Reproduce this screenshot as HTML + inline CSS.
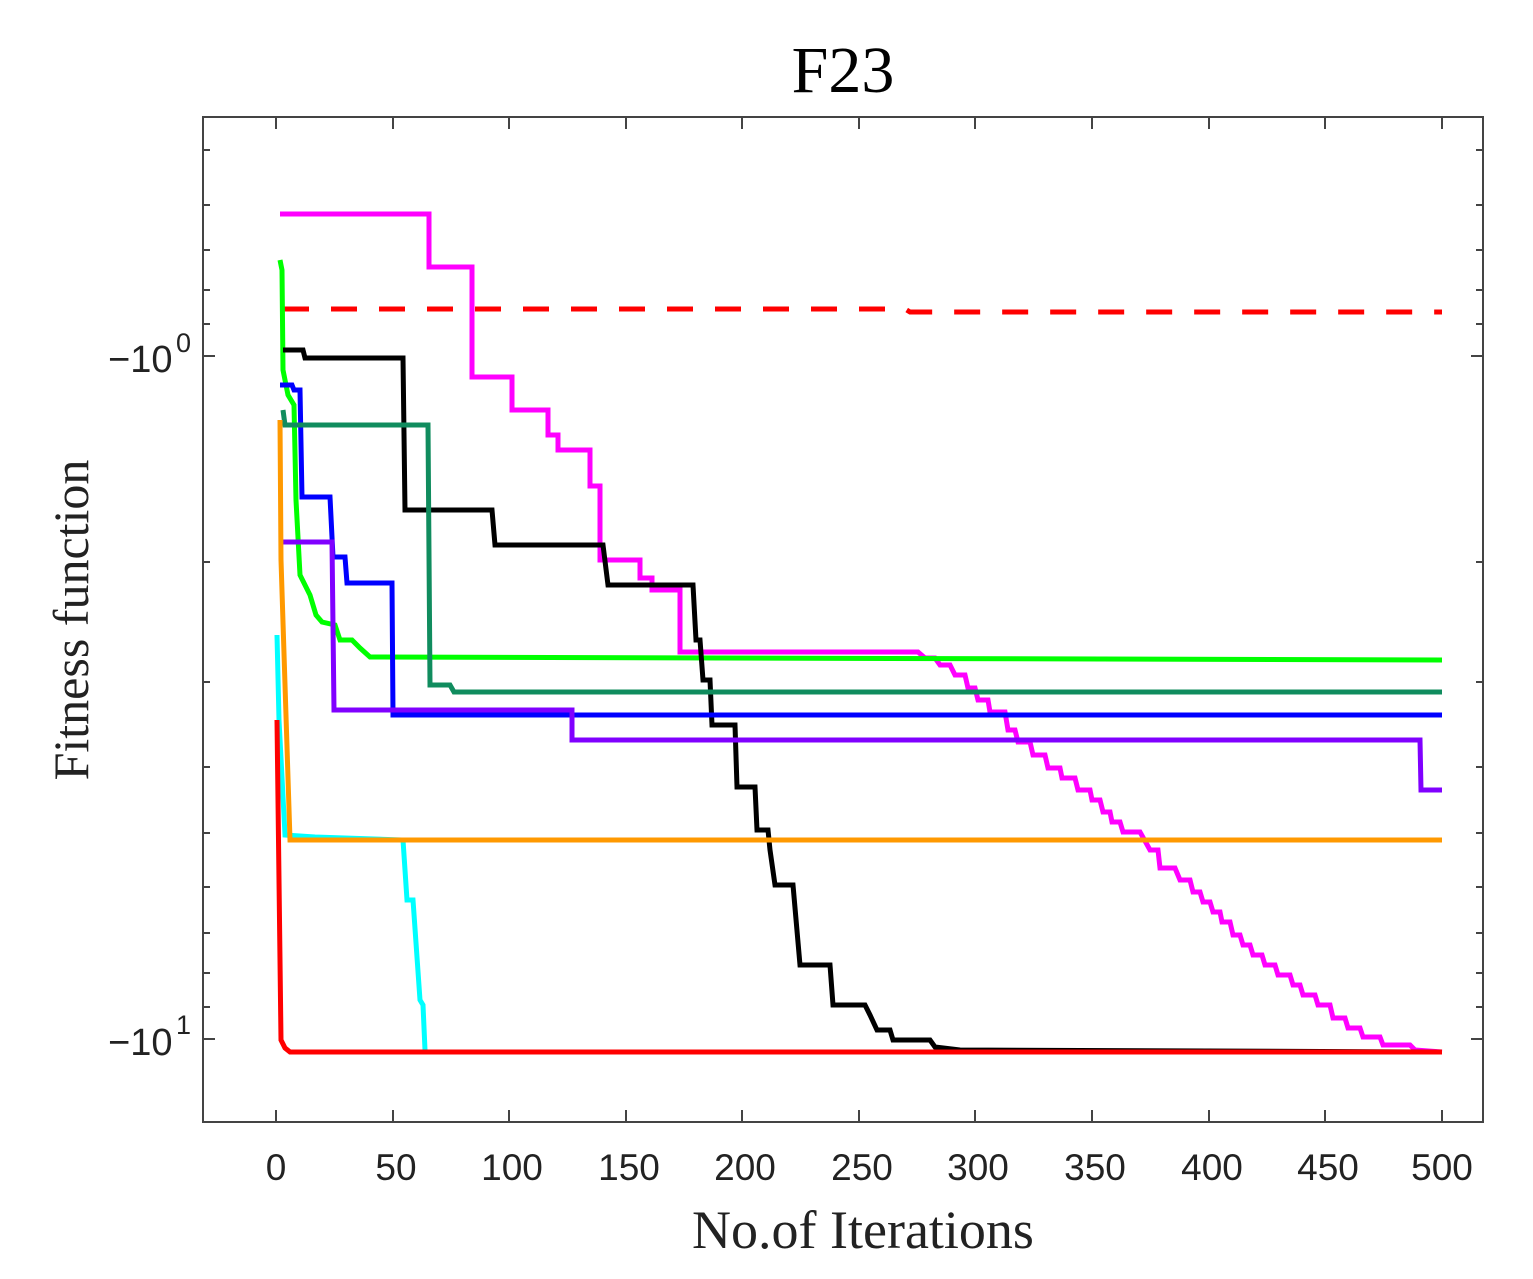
<!DOCTYPE html>
<html><head><meta charset="utf-8"><style>html,body{margin:0;padding:0;background:#fff}svg{display:block}</style></head>
<body>
<svg width="1533" height="1279" viewBox="0 0 1533 1279" xmlns="http://www.w3.org/2000/svg">
<rect width="1533" height="1279" fill="#fff"/>
<text x="843" y="92" font-family="Liberation Serif, serif" font-size="66" text-anchor="middle">F23</text>
<rect x="203" y="117" width="1280" height="1005" fill="none" stroke="#444" stroke-width="2"/>
<g stroke="#444" stroke-width="2">
<path d="M276 1122v-12M393 1122v-12M509 1122v-12M626 1122v-12M742 1122v-12M859 1122v-12M975 1122v-12M1092 1122v-12M1209 1122v-12M1325 1122v-12M1442 1122v-12"/>
<path d="M276 117v12M393 117v12M509 117v12M626 117v12M742 117v12M859 117v12M975 117v12M1092 117v12M1209 117v12M1325 117v12M1442 117v12"/>
<path d="M203 356h12M203 1039h12M1483 356h-12M1483 1039h-12"/>
<path d="M203 150h7M203 205h7M203 250h7M203 290h7M203 324h7M203 562h7M203 682h7M203 767h7M203 833h7M203 887h7M203 933h7M203 973h7M203 1007h7"/>
<path d="M1483 150h-7M1483 205h-7M1483 250h-7M1483 290h-7M1483 324h-7M1483 562h-7M1483 682h-7M1483 767h-7M1483 833h-7M1483 887h-7M1483 933h-7M1483 973h-7M1483 1007h-7"/>
</g>
<g font-family="Liberation Sans, sans-serif" font-size="37" fill="#222" text-anchor="middle">
<text x="276" y="1180">0</text><text x="396" y="1180">50</text><text x="512" y="1180">100</text><text x="629" y="1180">150</text><text x="745" y="1180">200</text><text x="862" y="1180">250</text><text x="978" y="1180">300</text><text x="1095" y="1180">350</text><text x="1212" y="1180">400</text><text x="1328" y="1180">450</text><text x="1442" y="1180">500</text>
</g>
<g font-family="Liberation Sans, sans-serif" font-size="38" fill="#222">
<text x="108" y="372">−10</text><text x="176" y="352" font-size="27">0</text>
<text x="108" y="1055">−10</text><text x="176" y="1034" font-size="27">1</text>
</g>
<text x="863" y="1248" font-family="Liberation Serif, serif" font-size="54" text-anchor="middle" fill="#222">No.of Iterations</text>
<text transform="translate(88,620) rotate(-90)" font-family="Liberation Serif, serif" font-size="50" text-anchor="middle" fill="#222">Fitness function</text>
<g fill="none" stroke-width="5" stroke-linejoin="miter">
<polyline stroke="#ff00ff" points="280,214 429,214 429,267 472,267 472,377 512,377 512,410 548,410 548,435 558,435 558,450 590,450 590,486 600,486 600,560 640,560 640,578 652,578 652,590 680,590 680,652 918,652 925,658 935,658 940,665 950,665 955,675 965,675 968,688 975,688 978,700 988,700 990,712 1005,712 1008,730 1015,730 1018,742 1030,742 1033,755 1045,755 1048,768 1060,768 1062,778 1075,778 1078,790 1090,790 1092,800 1100,800 1103,812 1110,812 1112,822 1120,822 1123,832 1140,832 1150,850 1158,850 1160,868 1175,868 1180,880 1190,880 1193,892 1200,892 1203,902 1210,902 1213,912 1220,912 1222,922 1230,922 1233,935 1240,935 1243,945 1250,945 1253,955 1262,955 1265,965 1275,965 1278,975 1290,975 1293,985 1300,985 1303,995 1315,995 1318,1005 1330,1005 1333,1018 1345,1018 1348,1028 1360,1028 1363,1037 1380,1037 1383,1045 1410,1045 1415,1050 1442,1052"/>
<polyline stroke="#ff0000" stroke-dasharray="26,22" points="283,309 905,309 910,312 1442,312"/>
<polyline stroke="#00ff00" points="280,260 282,270 283,370 288,395 294,405 296,500 300,575 310,595 316,615 322,622 335,625 340,640 352,640 360,648 370,657 1442,660"/>
<polyline stroke="#000" points="283,350 303,350 305,358 403,358 405,510 492,510 495,545 603,545 608,585 693,585 696,640 700,640 703,680 710,680 712,725 735,725 737,787 755,787 757,830 768,830 770,850 775,885 793,885 800,965 830,965 833,1005 865,1005 870,1015 877,1030 890,1030 893,1040 930,1040 935,1047 960,1050 1442,1052"/>
<polyline stroke="#0000ff" points="280,385 292,385 294,390 300,390 302,497 330,497 333,557 345,557 347,583 392,583 393,715 1442,715"/>
<polyline stroke="#108c5e" points="283,410 285,425 428,425 430,685 450,685 454,692 1442,692"/>
<polyline stroke="#8000ff" points="280,542 332,542 334,710 572,710 572,740 1420,740 1421,790 1442,790"/>
<polyline stroke="#00ffff" points="277,635 279,720 285,835 315,837 403,840 407,900 413,900 420,1000 423,1005 425,1050"/>
<polyline stroke="#ff9900" points="280,420 281,560 290,840 1442,840"/>
<polyline stroke="#ff0000" points="277,720 281,1040 285,1048 290,1052 1442,1052"/>
</g>
</svg>
</body></html>
